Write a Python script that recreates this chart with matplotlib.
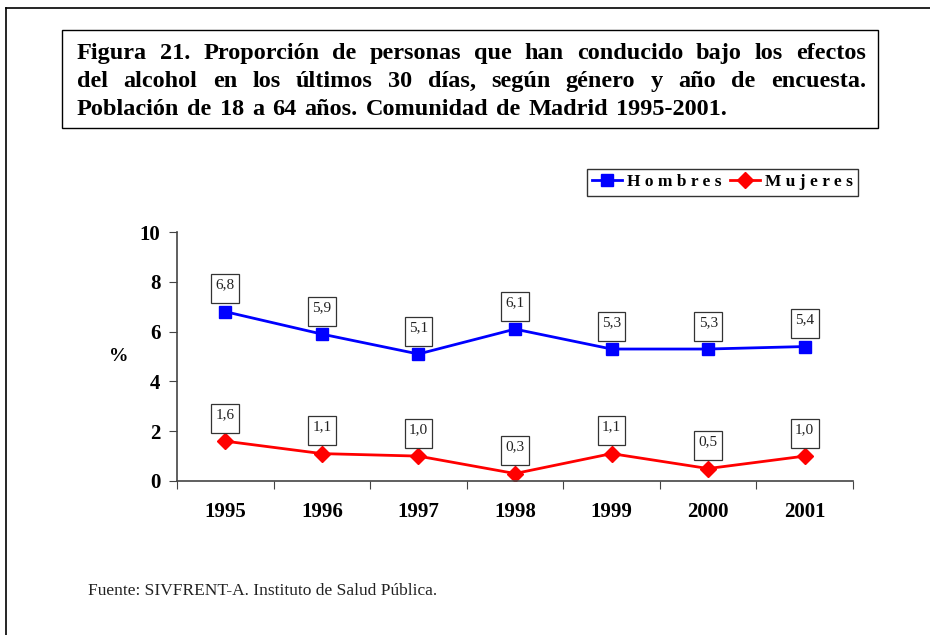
import matplotlib
matplotlib.use("Agg")
import matplotlib.pyplot as plt
from matplotlib.lines import Line2D
from matplotlib.patches import Rectangle

plt.rcParams["font.family"] = ["Liberation Serif", "DejaVu Serif"]

# datos
anios = ["1995", "1996", "1997", "1998", "1999", "2000", "2001"]
hombres = [6.8, 5.9, 5.1, 6.1, 5.3, 5.3, 5.4]
mujeres = [1.6, 1.1, 1.0, 0.3, 1.1, 0.5, 1.0]
yticks = [0, 2, 4, 6, 8, 10]

titulo = [
    "Figura 21. Proporción de personas que han conducido bajo los efectos",
    "del alcohol en los últimos 30 días, según género y año de encuesta.",
    "Población de 18 a 64 años. Comunidad de Madrid 1995-2001.",
]
fuente = "Fuente: SIVFRENT-A. Instituto de Salud Pública."

W, H = 930, 635
fig = plt.figure(figsize=(W / 100, H / 100), dpi=100)

def fx(px):
    return px / W

def fy(py):
    return 1 - py / H

# marco exterior (solo arriba e izquierda visibles)
fig.add_artist(Line2D([fx(6), 1], [fy(8), fy(8)], color="black", lw=1.2))
fig.add_artist(Line2D([fx(6), fx(6)], [fy(8), 0], color="black", lw=1.2))

# caja del titulo
fig.add_artist(Rectangle((fx(62), fy(128)), fx(878) - fx(62), fy(30) - fy(128),
                         fill=False, edgecolor="black", lw=1.0))

# titulo justificado
renderer = fig.canvas.get_renderer()
x_ini, x_fin = 77, 866
bases = [59, 87, 115]
for i, linea in enumerate(titulo):
    palabras = linea.split(" ")
    textos = [fig.text(0, 0, p, fontsize=17.5, fontweight="bold") for p in palabras]
    anchos = [t.get_window_extent(renderer).width for t in textos]
    if i < len(titulo) - 1:
        hueco = (x_fin - x_ini - sum(anchos)) / (len(palabras) - 1)
    else:
        hueco = 8
    x = x_ini
    for t, a in zip(textos, anchos):
        t.set_position((fx(x), fy(bases[i])))
        t.set_va("baseline")
        x += a + hueco

ax = fig.add_axes([fx(177), fy(481), fx(853) - fx(177), fy(232) - fy(481)])
x = list(range(len(anios)))
ax.plot(x, hombres, color="#0000ff", lw=2, marker="s", markersize=9,
        label="H o m b r e s")
ax.plot(x, mujeres, color="#ff0000", lw=2, marker="D", markersize=8,
        label="M u j e r e s")

# etiquetas con caja (texto arriba, hueco abajo como en Excel)
for serie in (hombres, mujeres):
    for xi, v in zip(x, serie):
        ax.annotate(f"{v:.1f}".replace(".", ",") + "\n", (xi, v), xytext=(0, 9),
                    textcoords="offset points", ha="center", va="bottom",
                    fontsize=11, color="#222222", linespacing=0.45,
                    bbox=dict(boxstyle="square,pad=0.28", fc="white",
                              ec="#333333", lw=0.9))

ax.set_xlim(-0.5, len(anios) - 0.5)
ax.set_ylim(0, 10)
ax.set_yticks(yticks)
ax.set_yticklabels([str(t) for t in yticks], fontsize=15, fontweight="bold")
ax.set_xticks([i - 0.5 for i in range(len(anios) + 1)])
ax.set_xticklabels([])
ax.set_xticks(x, minor=True)
ax.set_xticklabels(anios, minor=True, fontsize=15, fontweight="bold")
ax.tick_params(axis="x", which="minor", length=0, pad=15)
ax.tick_params(axis="x", which="major", length=6, direction="out", color="#444444")
ax.tick_params(axis="y", length=6, direction="out", pad=6, color="#444444")
for s in ("top", "right"):
    ax.spines[s].set_visible(False)
for s in ("left", "bottom"):
    ax.spines[s].set_color("#444444")
    ax.spines[s].set_linewidth(1.2)

ax.set_ylabel("%", fontsize=14, fontweight="bold", rotation=0, labelpad=15,
              va="center")

leg = fig.legend(loc="upper right", bbox_to_anchor=(fx(858), fy(169)),
                 ncol=2, frameon=True, fancybox=False, edgecolor="black",
                 prop={"size": 12.5, "weight": "bold"}, handlelength=1.7,
                 columnspacing=0.5, handletextpad=0.3, borderpad=0.3,
                 borderaxespad=0)
leg.get_frame().set_linewidth(1.0)

fig.text(fx(88), fy(591), fuente, fontsize=12.5, va="center", color="#222222")

fig.savefig("out.png", dpi=100)
